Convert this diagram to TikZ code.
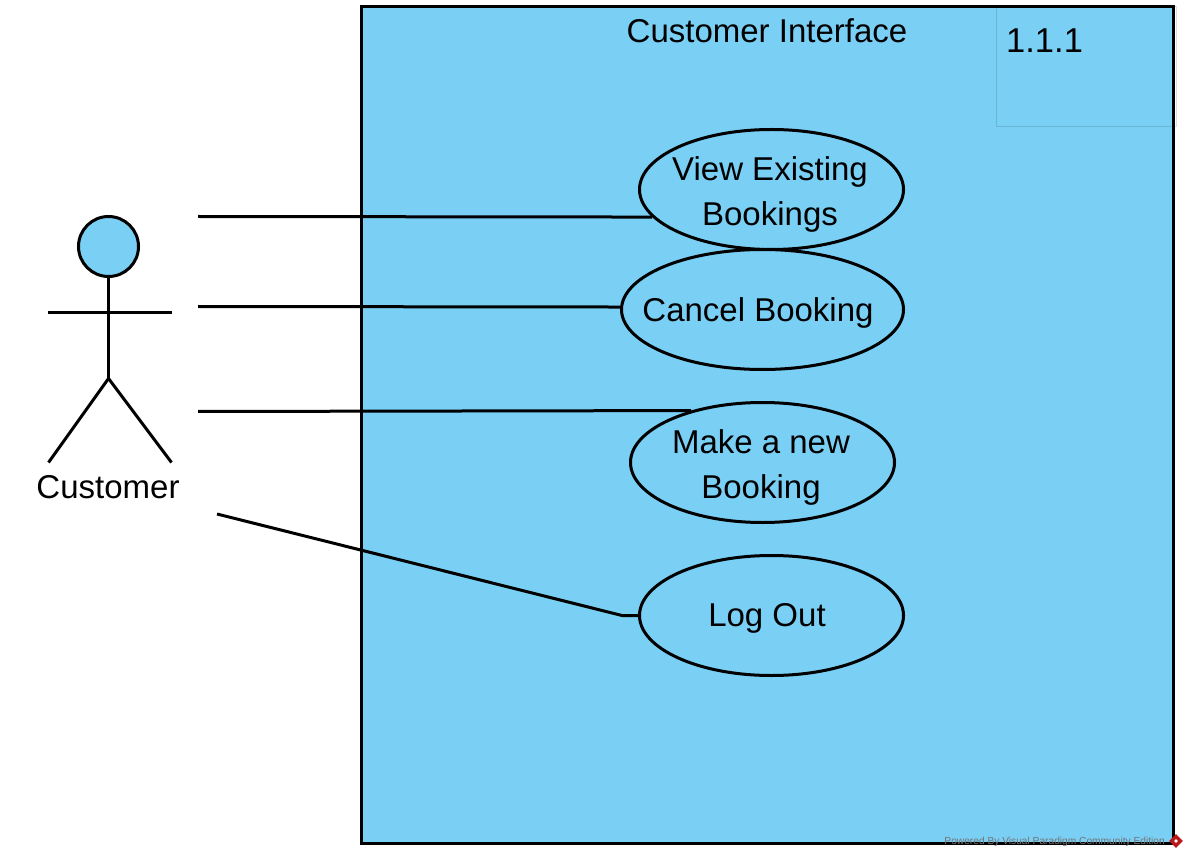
\documentclass[tikz,border=0pt]{standalone}
\usepackage{fontspec}
\setmainfont{Liberation Sans}
\usetikzlibrary{shapes.geometric}
\definecolor{sysblue}{HTML}{7ACFF5}
\tikzset{
    usecase/.style={draw=black, line width=3pt, ellipse, fill=sysblue, minimum width=264pt, minimum height=120pt, inner sep=-40pt, align=center, font=\fontsize{33}{45}\selectfont},
    drop/.style={execute at begin node={\rule{0pt}{#1}}},
    label/.style={font=\fontsize{33}{45}\selectfont, inner sep=0pt},
    assoc/.style={draw=black, line width=3pt},
}
\begin{document}
\begin{tikzpicture}[x=1pt,y=-1pt]
    \useasboundingbox (0,0) rectangle (1188,858);

    %system
    \draw[line width=3pt, fill=sysblue] (361,7) rectangle (1173,843);
    \draw[line width=1pt, black, opacity=.13] (996,7) rectangle (1176,127);
    \node[label] (title) at (767,31) {Customer Interface};
    \node[label, anchor=west, font=\fontsize{34.5}{45}\selectfont] (version) at (1006,41) {1.1.1};

    %use cases
    \node[usecase, drop=78pt] (view) at (771.5,189.5) {View Existing\kern3pt\\Bookings\kern3pt};
    \node[usecase, drop=30pt, minimum width=282pt] (cancel) at (762.5,309.5) {Cancel Booking\kern9pt};
    \node[usecase, drop=78pt] (make) at (762.5,462.5) {Make a new\kern3pt\\Booking\kern3pt};
    \node[usecase, drop=28pt] (logout) at (771.5,615.5) {Log Out\kern9pt};

    %actor
    \node[draw=black, line width=3pt, circle, fill=sysblue, minimum size=60pt, inner sep=0pt] (head) at (108.5,246.5) {};
    \coordinate (hip) at (108.5,378.5);
    \draw[line width=3pt] (head) -- (hip);
    \draw[line width=3pt] (48,312.5) -- (172,312.5);
    \foreach \x in {48.5,171.5}{
        \draw[line width=3pt] (hip) -- (\x,462.5);
    }
    \node[label] (customer) at (108,487) {Customer};

    %associations
    \coordinate (c1) at (198,216.5);
    \coordinate (c2) at (198,306.5);
    \coordinate (c3) at (198,411.5);
    \coordinate (c4) at (217,514);
    \coordinate (bend) at (622,615.5);
    \draw[assoc] (c1) -- (view.193.1);
    \draw[assoc] (c2) -- (cancel.179.7);
    \draw[assoc] (c3) -- (make.144.2);
    \draw[assoc] (c4) -- (bend) -- (logout.west);

    %watermark
    \node[font=\fontsize{10.2}{12}\selectfont, text=black!55, anchor=east, inner sep=0pt] (power) at (1165,842) {Powered By Visual Paradigm Community Edition};
    \node[diamond, fill=red!70!black!90, minimum size=14pt, inner sep=0pt] (logo) at (1176,841) {};
    \node[diamond, fill=white, minimum size=4pt, inner sep=0pt] (logoin) at (logo) {};
\end{tikzpicture}
\end{document}
